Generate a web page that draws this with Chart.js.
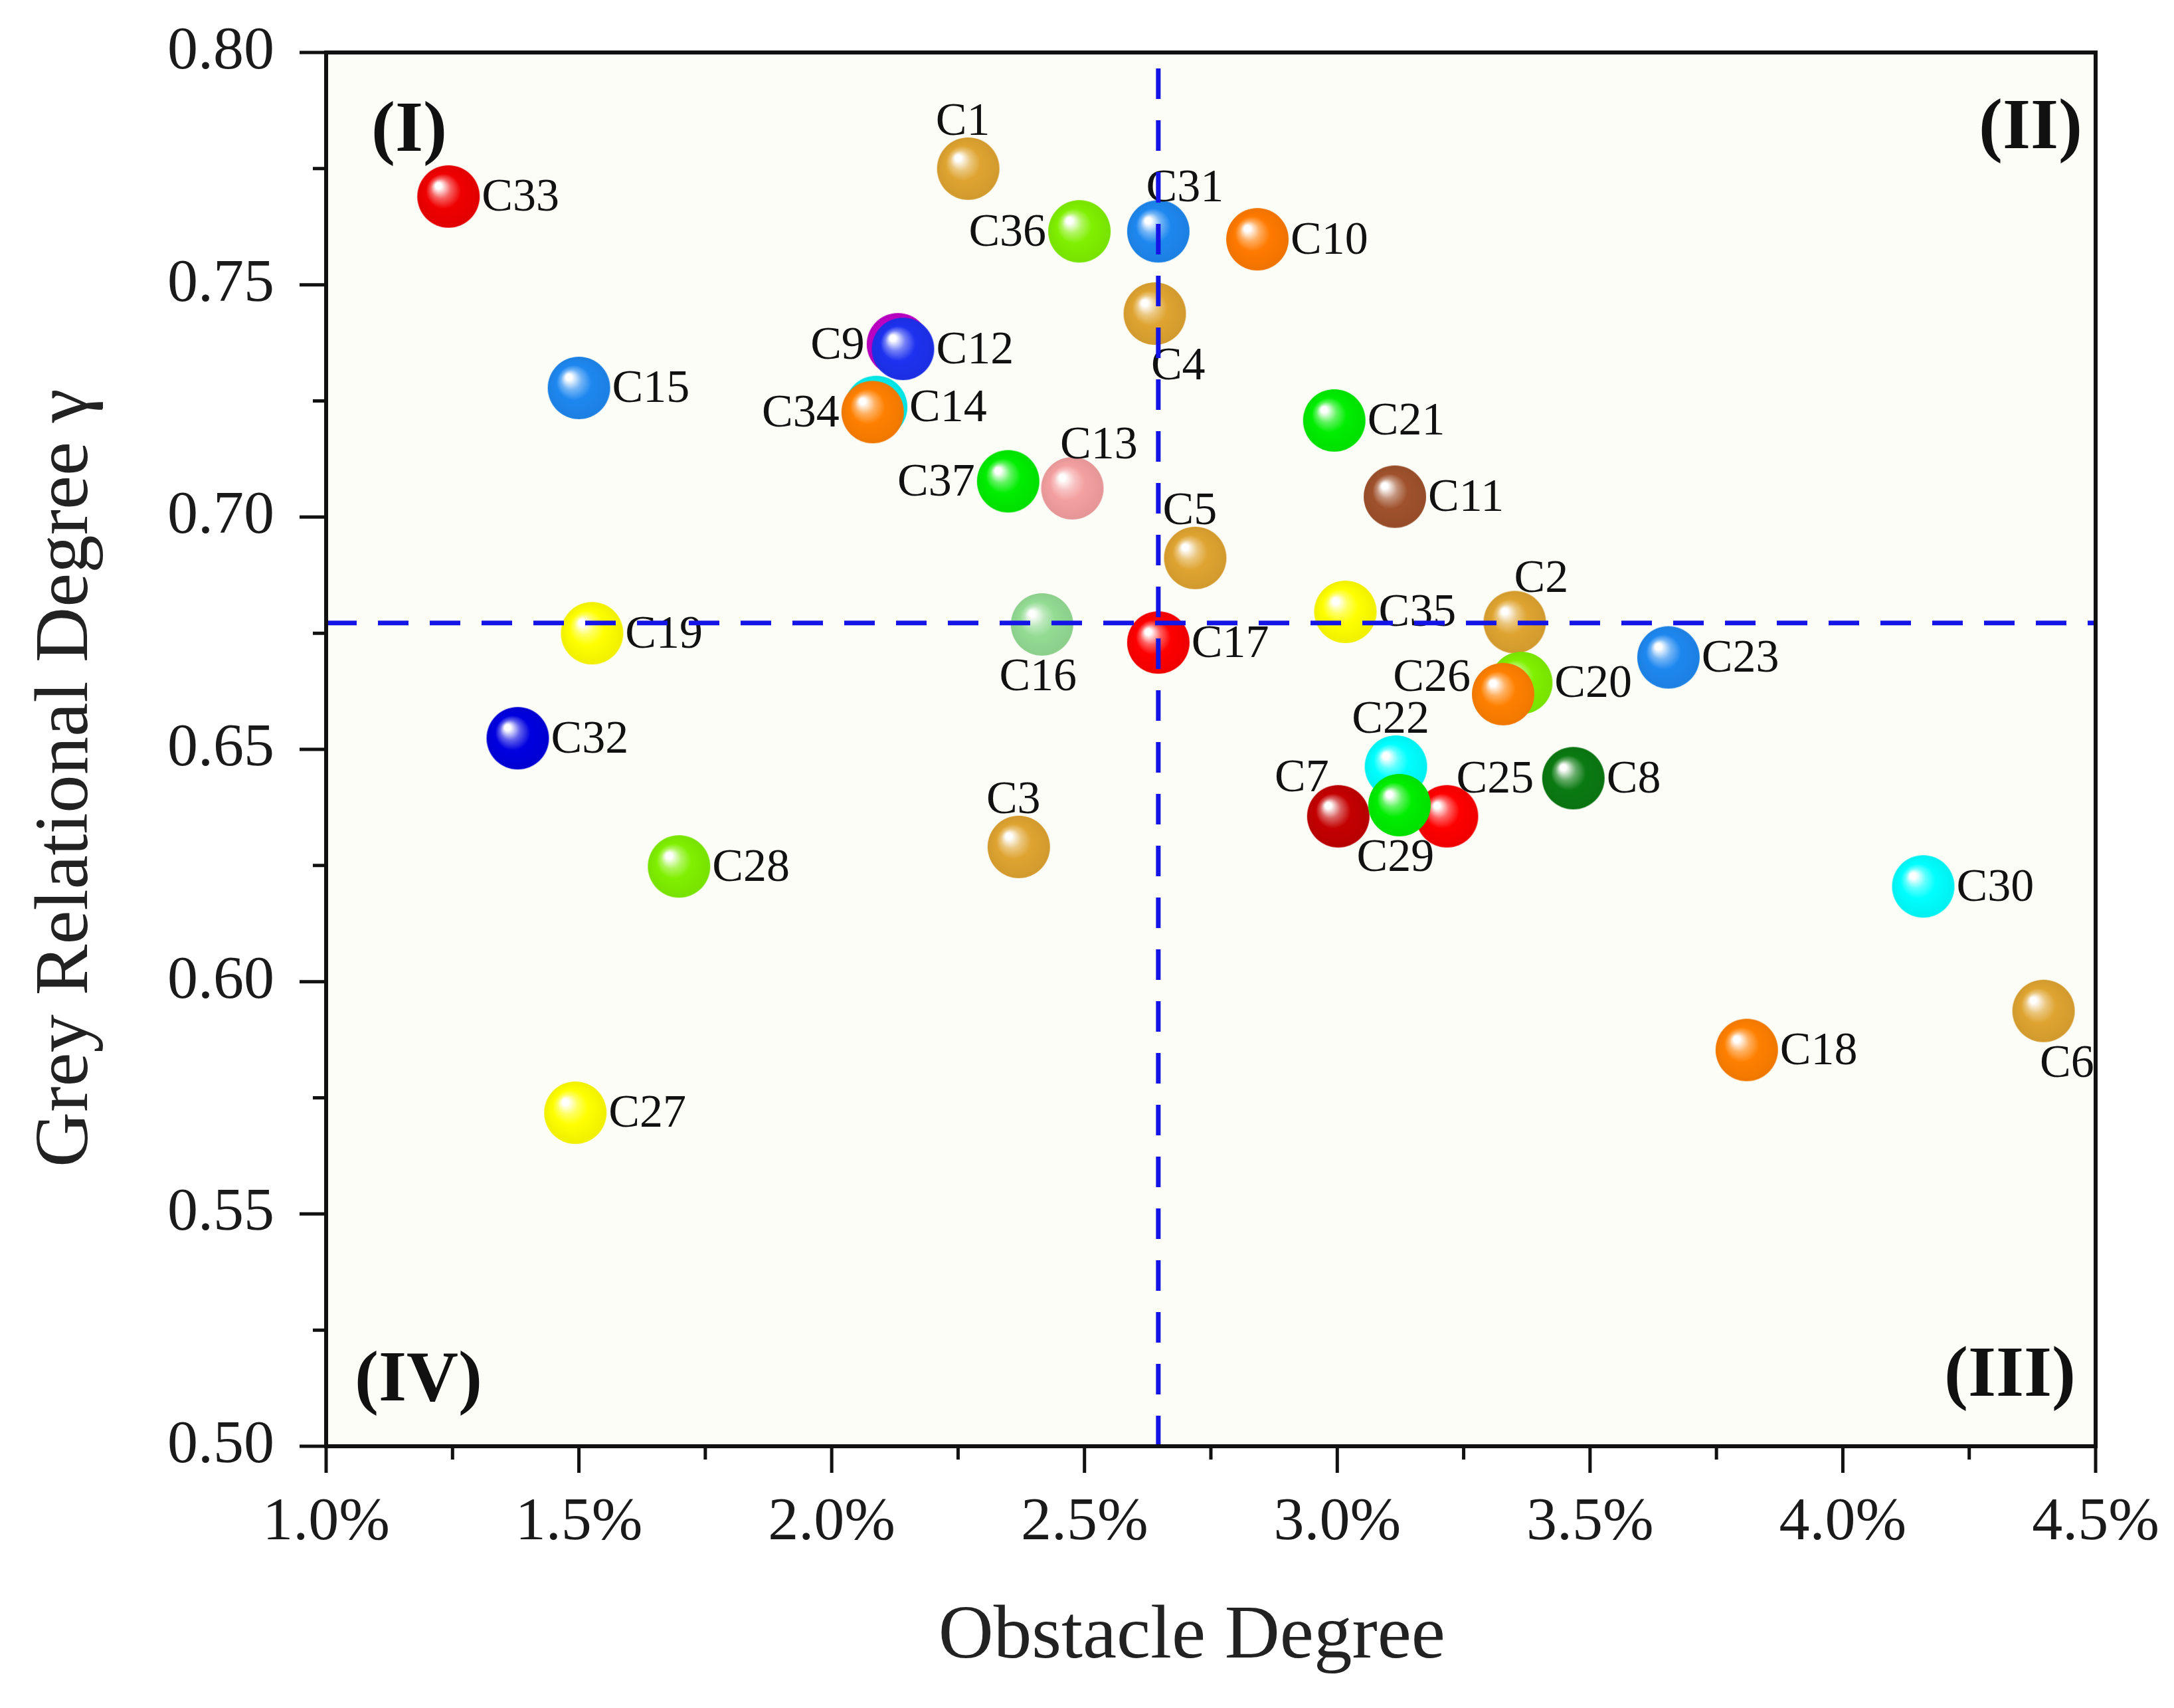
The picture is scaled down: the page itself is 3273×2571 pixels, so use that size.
<!DOCTYPE html>
<html>
<head>
<meta charset="utf-8">
<script src="https://cdn.jsdelivr.net/npm/chart.js@4.4.1/dist/chart.umd.min.js"></script>
<style>
  html, body { margin: 0; padding: 0; background: #ffffff; }
  canvas { display: block; }
</style>
</head>
<body>
<canvas id="chart" width="3273" height="2571" style="width:3273px;height:2571px"></canvas>
<script>
// ---- data ----
const names = ['C1','C2','C3','C4','C5','C6','C7','C8','C9','C10','C11','C12','C13','C14','C15','C16','C17','C18','C19',
               'C20','C21','C22','C23','C25','C26','C27','C28','C29','C30','C31','C32','C33','C34','C35','C36','C37'];

// obstacle degree (%)
const obstacle = [2.270, 3.351, 2.370, 2.639, 2.719, 4.397, 3.002, 3.467, 2.131, 2.842, 3.114, 2.141, 2.476, 2.088, 1.500, 2.416, 2.646, 3.810, 1.526,
                  3.364, 2.994, 3.116, 3.655, 3.217, 3.328, 1.493, 1.698, 3.123, 4.159, 2.646, 1.379, 1.242, 2.081, 3.016, 2.490, 2.349];

// grey relational degree
const greyDegree = [0.7750, 0.6774, 0.6290, 0.7438, 0.6912, 0.5937, 0.6356, 0.6438, 0.7372, 0.7598, 0.7044, 0.7362, 0.7062, 0.7237, 0.7278, 0.6769, 0.6730, 0.5853, 0.6750,
                    0.6643, 0.7208, 0.6463, 0.6698, 0.6356, 0.6619, 0.5718, 0.6248, 0.6380, 0.6205, 0.7615, 0.6524, 0.7690, 0.7226, 0.6796, 0.7615, 0.7077];

const ballColors = ['#DFA431','#DFA431','#DFA431','#DFA431','#DFA431','#DFA431','#C40000','#0B7A12','#C000C8','#FF7A00','#A0522D','#1E32F0','#F4A0A0','#00F0F0','#1E88F0','#94DC94','#FF0000','#FF8000','#FFFF00',
                    '#80F000','#00EE00','#00FFFF','#1E88F0','#FF0000','#FF8000','#FFFF00','#80F000','#00EE00','#00FFFF','#1E88F0','#0000E0','#F00000','#FF8000','#FFFF00','#80F000','#00EE00'];

// where each label sits relative to its ball
const labelSide = ['t','tr','t','br','t','br','nw','r','l','r','r','r','tr','r','r','b','r','r','r',
                   'r','r','t','r','ne','lu','r','r','b','r','tr','r','r','l','r','l','l'];

// quadrant cut lines
const xCut = 2.646;
const yCut = 0.6772;

// axis ticks
const xTicks = [1.0, 1.5, 2.0, 2.5, 3.0, 3.5, 4.0, 4.5];
const xMinor = [1.25, 1.75, 2.25, 2.75, 3.25, 3.75, 4.25];
const yTicks = [0.50, 0.55, 0.60, 0.65, 0.70, 0.75, 0.80];
const yMinor = [0.525, 0.575, 0.625, 0.675, 0.725, 0.775];

const quadrantLabels = ['(I)', '(II)', '(III)', '(IV)'];

// ---- helpers ----
const R = 47;
const SERIF = '"Liberation Serif", "DejaVu Serif", serif';

function hexToRgb(h) {
    const n = parseInt(h.slice(1), 16);
    return [(n >> 16) & 255, (n >> 8) & 255, n & 255];
}
function mix(h, target, t) {
    const c = hexToRgb(h);
    return 'rgb(' + c.map((v, i) => Math.round(v + (target[i] - v) * t)).join(',') + ')';
}

// glossy ball used as point style
function makeBall(color) {
    const size = 2 * R + 4;
    const cv = document.createElement('canvas');
    cv.width = size; cv.height = size;
    const g = cv.getContext('2d');
    const c = size / 2;
    const grad = g.createRadialGradient(c - 0.36 * R, c - 0.38 * R, 0, c, c, R);
    grad.addColorStop(0, '#ffffff');
    grad.addColorStop(0.10, '#ffffff');
    grad.addColorStop(0.32, mix(color, [255, 255, 255], 0.38));
    grad.addColorStop(0.56, color);
    grad.addColorStop(1, mix(color, [0, 0, 0], 0.06));
    g.fillStyle = grad;
    g.beginPath();
    g.arc(c, c, R, 0, Math.PI * 2);
    g.fill();
    return cv;
}
const balls = ballColors.map(makeBall);

const points = names.map((n, i) => ({ x: obstacle[i], y: greyDegree[i] }));

// no extra room for overhanging tick labels, layout padding decides the plot box
function noOverhang(scale) {
    scale.paddingTop = 0;
    scale.paddingBottom = 0;
    scale.paddingLeft = 0;
    scale.paddingRight = 0;
}

// ---- plugins ----
const frameAndTicks = {
    id: 'frameAndTicks',
    beforeDraw(chart) {
        const { ctx, chartArea: a } = chart;
        ctx.save();
        ctx.fillStyle = '#ffffff';
        ctx.fillRect(0, 0, chart.width, chart.height);
        ctx.fillStyle = '#FDFDF7';
        ctx.fillRect(a.left, a.top, a.right - a.left, a.bottom - a.top);
        ctx.restore();
    },
    afterDraw(chart) {
        const { ctx, chartArea: a, scales } = chart;
        ctx.save();
        ctx.strokeStyle = '#111111';
        ctx.lineWidth = 5;
        ctx.beginPath();
        xTicks.forEach(v => { const p = scales.x.getPixelForValue(v); ctx.moveTo(p, a.bottom); ctx.lineTo(p, a.bottom + 40); });
        xMinor.forEach(v => { const p = scales.x.getPixelForValue(v); ctx.moveTo(p, a.bottom); ctx.lineTo(p, a.bottom + 20); });
        yTicks.forEach(v => { const p = scales.y.getPixelForValue(v); ctx.moveTo(a.left, p); ctx.lineTo(a.left - 40, p); });
        yMinor.forEach(v => { const p = scales.y.getPixelForValue(v); ctx.moveTo(a.left, p); ctx.lineTo(a.left - 20, p); });
        ctx.stroke();
        ctx.lineWidth = 6;
        ctx.strokeRect(a.left, a.top, a.right - a.left, a.bottom - a.top);

        // quadrant markers
        ctx.fillStyle = '#111111';
        ctx.font = 'bold 108px ' + SERIF;
        ctx.textAlign = 'center';
        ctx.textBaseline = 'middle';
        ctx.fillText(quadrantLabels[0], a.left + 125, a.top + 120);
        ctx.fillText(quadrantLabels[1], a.right - 98, a.top + 116);
        ctx.fillText(quadrantLabels[2], a.right - 129, a.bottom - 104);
        ctx.fillText(quadrantLabels[3], a.left + 139, a.bottom - 97);
        ctx.restore();
    }
};

const pointLabels = {
    id: 'pointLabels',
    afterDatasetDraw(chart, args) {
        if (args.index !== 2) return;
        const { ctx } = chart;
        ctx.save();
        ctx.fillStyle = '#111111';
        ctx.font = '70px ' + SERIF;
        args.meta.data.forEach((el, i) => {
            const x = el.x, y = el.y, s = labelSide[i], t = names[i];
            switch (s) {
                case 'r':  ctx.textAlign = 'left';   ctx.textBaseline = 'middle';     ctx.fillText(t, x + R + 3, y + 3); break;
                case 'l':  ctx.textAlign = 'right';  ctx.textBaseline = 'middle';     ctx.fillText(t, x - R - 3, y + 3); break;
                case 'lu': ctx.textAlign = 'right';  ctx.textBaseline = 'middle';     ctx.fillText(t, x - R - 2, y - 0.5 * R); break;
                case 't':  ctx.textAlign = 'center'; ctx.textBaseline = 'alphabetic'; ctx.fillText(t, x - 8, y - R - 4); break;
                case 'tr': ctx.textAlign = 'center'; ctx.textBaseline = 'alphabetic'; ctx.fillText(t, x + 0.85 * R, y - R + 2); break;
                case 'b':  ctx.textAlign = 'center'; ctx.textBaseline = 'alphabetic'; ctx.fillText(t, x - 6, y + R + 52); break;
                case 'br': ctx.textAlign = 'center'; ctx.textBaseline = 'alphabetic'; ctx.fillText(t, x + 0.75 * R, y + R + 52); break;
                case 'nw': ctx.textAlign = 'right';  ctx.textBaseline = 'alphabetic'; ctx.fillText(t, x - 0.3 * R, y - 0.8 * R); break;
                case 'ne': ctx.textAlign = 'left';   ctx.textBaseline = 'alphabetic'; ctx.fillText(t, x + 0.3 * R, y - 0.75 * R); break;
            }
        });
        ctx.restore();
    }
};

// ---- chart ----
const cutStyle = {
    showLine: true,
    borderColor: '#1414E6',
    borderWidth: 7,
    borderDash: [46, 32],
    pointRadius: 0,
    pointHoverRadius: 0,
    fill: false,
    order: 0
};

new Chart(document.getElementById('chart').getContext('2d'), {
    type: 'scatter',
    data: {
        datasets: [
            Object.assign({ label: 'xCut', data: [{ x: xCut, y: yTicks[0] }, { x: xCut, y: yTicks[yTicks.length - 1] }] }, cutStyle),
            Object.assign({ label: 'yCut', data: [{ x: xTicks[0], y: yCut }, { x: xTicks[xTicks.length - 1], y: yCut }] }, cutStyle),
            {
                label: 'factors',
                data: points,
                pointStyle: ctx => balls[ctx.dataIndex],
                pointRadius: R,
                pointHoverRadius: R,
                order: 1
            }
        ]
    },
    options: {
        responsive: false,
        devicePixelRatio: 1,
        animation: false,
        events: [],
        layout: { padding: { top: 79, right: 118, left: 0, bottom: 0 } },
        plugins: {
            legend: { display: false },
            tooltip: { enabled: false }
        },
        scales: {
            x: {
                type: 'linear',
                min: 1.0,
                max: 4.5,
                afterBuildTicks: scale => { scale.ticks = xTicks.map(v => ({ value: v })); },
                afterFit: scale => { scale.height = 394; noOverhang(scale); },
                grid: { display: false, drawTicks: false },
                border: { display: false },
                ticks: {
                    padding: 61,
                    color: '#1a1a1a',
                    font: { family: SERIF, size: 92 },
                    maxRotation: 0,
                    callback: v => Number(v).toFixed(1) + '%'
                },
                title: {
                    display: true,
                    text: 'Obstacle Degree  ',
                    color: '#222222',
                    font: { family: SERIF, size: 115, lineHeight: 1.2 },
                    padding: { top: 0, bottom: 37 }
                }
            },
            y: {
                type: 'linear',
                min: 0.50,
                max: 0.80,
                afterBuildTicks: scale => { scale.ticks = yTicks.map(v => ({ value: v })); },
                afterFit: scale => { scale.width = 491; noOverhang(scale); },
                grid: { display: false, drawTicks: false },
                border: { display: false },
                ticks: {
                    padding: 78,
                    color: '#1a1a1a',
                    font: { family: SERIF, size: 92 },
                    callback: v => Number(v).toFixed(2)
                },
                title: {
                    display: true,
                    text: 'Grey Relational Degree \u03b3   ',
                    color: '#222222',
                    font: { family: SERIF, size: 115, lineHeight: 1.2 },
                    padding: { top: 32, bottom: 0 }
                }
            }
        }
    },
    plugins: [frameAndTicks, pointLabels]
});
</script>
</body>
</html>
